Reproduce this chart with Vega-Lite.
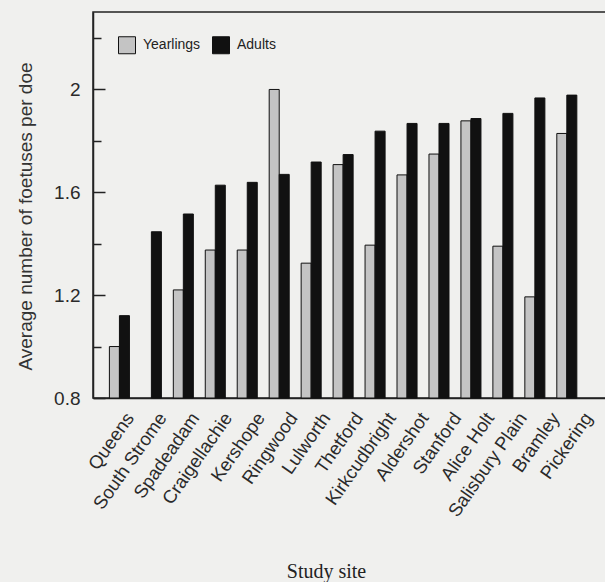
{
  "$schema": "https://vega.github.io/schema/vega-lite/v6.json",
  "autosize": "none",
  "padding": {"left": 93, "top": 12, "right": 0, "bottom": 184},
  "width": 513,
  "height": 386,
  "background": "#f0f0ee",
  "view": {"stroke": "#222", "strokeWidth": 1.5},
  "data": {
    "values": [
      {"site": "Queens", "age": "Yearlings", "value": 1.0},
      {"site": "Queens", "age": "Adults", "value": 1.12},
      {"site": "South Strome", "age": "Adults", "value": 1.446},
      {"site": "Spadeadam", "age": "Yearlings", "value": 1.22},
      {"site": "Spadeadam", "age": "Adults", "value": 1.515},
      {"site": "Craigellachie", "age": "Yearlings", "value": 1.375},
      {"site": "Craigellachie", "age": "Adults", "value": 1.627},
      {"site": "Kershope", "age": "Yearlings", "value": 1.375},
      {"site": "Kershope", "age": "Adults", "value": 1.638},
      {"site": "Ringwood", "age": "Yearlings", "value": 1.999},
      {"site": "Ringwood", "age": "Adults", "value": 1.669},
      {"site": "Lulworth", "age": "Yearlings", "value": 1.324},
      {"site": "Lulworth", "age": "Adults", "value": 1.717},
      {"site": "Thetford", "age": "Yearlings", "value": 1.707},
      {"site": "Thetford", "age": "Adults", "value": 1.746},
      {"site": "Kirkcudbright", "age": "Yearlings", "value": 1.394},
      {"site": "Kirkcudbright", "age": "Adults", "value": 1.837},
      {"site": "Aldershot", "age": "Yearlings", "value": 1.667},
      {"site": "Aldershot", "age": "Adults", "value": 1.867},
      {"site": "Stanford", "age": "Yearlings", "value": 1.748},
      {"site": "Stanford", "age": "Adults", "value": 1.867},
      {"site": "Alice Holt", "age": "Yearlings", "value": 1.877},
      {"site": "Alice Holt", "age": "Adults", "value": 1.886},
      {"site": "Salisbury Plain", "age": "Yearlings", "value": 1.39},
      {"site": "Salisbury Plain", "age": "Adults", "value": 1.906},
      {"site": "Bramley", "age": "Yearlings", "value": 1.193},
      {"site": "Bramley", "age": "Adults", "value": 1.966},
      {"site": "Pickering", "age": "Yearlings", "value": 1.828},
      {"site": "Pickering", "age": "Adults", "value": 1.977}
    ]
  },
  "mark": {"type": "bar", "stroke": "#111", "strokeWidth": 1},
  "encoding": {
    "x": {
      "field": "site",
      "type": "nominal",
      "sort": null,
      "scale": {"paddingInner": 0.373, "paddingOuter": 0.713, "align": 0.36},
      "axis": {
        "title": "Study site",
        "titleFont": "Liberation Serif",
        "titleFontSize": 20,
        "titleFontWeight": "normal",
        "titleColor": "#222",
        "titleX": 233,
        "titleY": 179,
        "titleBaseline": "alphabetic",
        "titleAnchor": null,
        "labelFont": "Liberation Sans",
        "labelFontSize": 18.5,
        "labelColor": "#2a2a2a",
        "labelAngle": -55,
        "labelAlign": "right",
        "labelBaseline": "top",
        "labelPadding": 11,
        "labelOffset": {"expr": "3 + 11*datum.index"},
        "ticks": false,
        "domainColor": "#222",
        "domainWidth": 1.5
      }
    },
    "xOffset": {
      "field": "age",
      "type": "nominal",
      "sort": ["Yearlings", "Adults"],
      "scale": {"domain": ["Yearlings", "Adults"], "paddingInner": 0, "paddingOuter": 0}
    },
    "y": {
      "field": "value",
      "type": "quantitative",
      "scale": {"domain": [0.8, 2.3], "nice": false, "zero": false},
      "axis": {
        "title": "Average number of foetuses per doe",
        "titleFont": "Liberation Sans",
        "titleFontSize": 19,
        "titleFontWeight": "normal",
        "titleColor": "#333",
        "titleX": -68,
        "titleY": 204,
        "titleAngle": -90,
        "titleAlign": "center",
        "titleBaseline": "middle",
        "titleAnchor": null,
        "values": [0.8, 1.0, 1.2, 1.4, 1.6, 1.8, 2.0, 2.2],
        "labelExpr": "round(datum.value*10)%4==0 ? format(datum.value,'~g') : ''",
        "labelFont": "Liberation Sans",
        "labelFontSize": 19,
        "labelColor": "#2a2a2a",
        "labelPadding": 25,
        "tickSize": {"condition": {"test": "round(datum.value*10)%4==0", "value": -12}, "value": -8},
        "tickColor": "#222",
        "tickWidth": 1.5,
        "domainColor": "#222",
        "domainWidth": 1.5,
        "grid": false
      }
    },
    "y2": {"datum": 0.8},
    "color": {
      "field": "age",
      "type": "nominal",
      "sort": ["Yearlings", "Adults"],
      "scale": {"domain": ["Yearlings", "Adults"], "range": ["#c4c4c4", "#111111"]},
      "legend": {
        "title": null,
        "orient": "none",
        "legendX": 25,
        "legendY": 24,
        "direction": "horizontal",
        "symbolType": "square",
        "symbolSize": 289,
        "symbolStrokeColor": "#111",
        "symbolStrokeWidth": 1,
        "symbolOpacity": 1,
        "labelFont": "Liberation Sans",
        "labelFontSize": 14,
        "labelColor": "#222",
        "labelOffset": 7,
        "columnPadding": 9,
        "padding": 0
      }
    }
  }
}
